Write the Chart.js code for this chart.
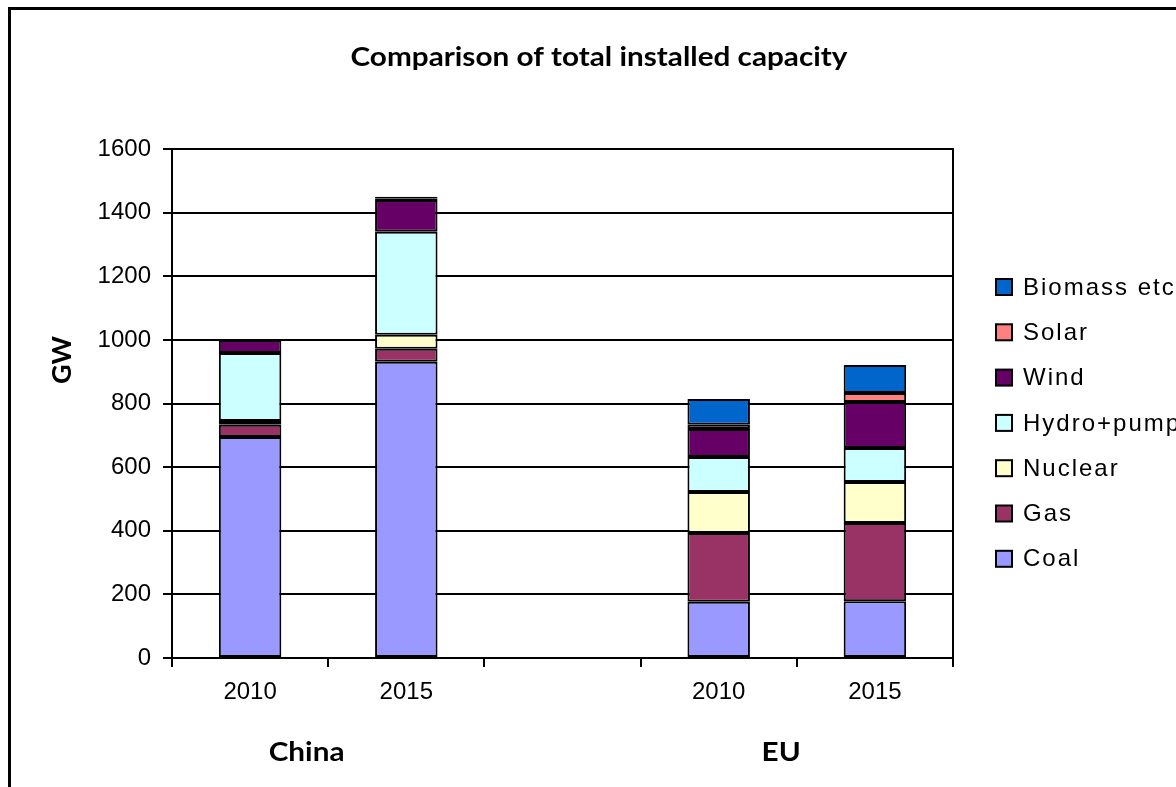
<!DOCTYPE html>
<html>
<head>
<meta charset="utf-8">
<script src="https://cdn.jsdelivr.net/npm/chart.js@4.4.1/dist/chart.umd.min.js"></script>
<style>
  html, body { margin: 0; padding: 0; background: #fff; overflow: hidden; }
  canvas { display: block; }
</style>
</head>
<body>
<canvas id="capChart" width="1176" height="787"></canvas>
<script>
// categories (third slot is an empty gap between China and EU)
const categories = ['2010', '2015', '', '2010', '2015'];
const groups = ['China', 'EU'];
const yTicks = [0, 200, 400, 600, 800, 1000, 1200, 1400, 1600];

// GW per source
const coal    = [695, 931, null, 177, 178];
const gas     = [38, 41, null, 216, 246];
const nuclear = [12, 44, null, 129, 129];
const hydro   = [214, 324, null, 110, 107];
const wind    = [41, 100, null, 88, 145];
const solar   = [null, 4, null, 13, 28];
const biomass = [null, 6, null, 81, 88];

const seriesNames  = ['Coal', 'Gas', 'Nuclear', 'Hydro+pump', 'Wind', 'Solar', 'Biomass etc'];
const seriesValues = [coal, gas, nuclear, hydro, wind, solar, biomass];
const seriesColors = ['#9999FF', '#993366', '#FFFFCC', '#CCFFFF', '#660066', '#FF8080', '#0066CC'];

// draws text squeezed/stretched horizontally, like the original Calibri
function wideText(ctx, text, x, y, sx) {
    ctx.save();
    ctx.translate(x, y);
    ctx.scale(sx, 1);
    ctx.fillText(text, 0, 0);
    ctx.restore();
}

// frame, title, axis title, group labels and legend
const decorations = {
    id: 'decorations',
    beforeDraw(chart) {
        const ctx = chart.ctx;
        ctx.save();
        ctx.fillStyle = '#fff';
        ctx.fillRect(0, 0, chart.width, chart.height);
        ctx.strokeStyle = '#000';
        ctx.lineWidth = 3;
        ctx.beginPath();
        ctx.moveTo(9.5, chart.height);
        ctx.lineTo(9.5, 8.5);
        ctx.lineTo(chart.width, 8.5);
        ctx.stroke();
        ctx.restore();
    },
    afterDraw(chart) {
        const ctx = chart.ctx;
        const area = chart.chartArea;
        const x = chart.scales.x;
        ctx.save();
        // plot box
        ctx.strokeStyle = '#000';
        ctx.lineWidth = 2;
        ctx.strokeRect(area.left, area.top, area.right - area.left, area.bottom - area.top);

        ctx.fillStyle = '#000';
        ctx.textAlign = 'center';
        ctx.textBaseline = 'middle';
        ctx.font = 'bold 27px Lato';
        wideText(ctx, 'Comparison of total installed capacity', 599, 57, 1.1);

        // group labels under the year ticks
        const g1 = x.getPixelForValue(0) * 0.6 + x.getPixelForValue(1) * 0.4;
        const g2 = x.getPixelForValue(3) * 0.6 + x.getPixelForValue(4) * 0.4;
        wideText(ctx, groups[0], g1 - 6, 752, 1.1);
        wideText(ctx, groups[1], g2, 752, 1.1);

        ctx.save();
        ctx.translate(62, 360);
        ctx.rotate(-Math.PI / 2);
        ctx.fillText('GW', 0, 0);
        ctx.restore();

        // legend, top entry is the last dataset
        ctx.textAlign = 'left';
        ctx.font = '24px "Liberation Sans"';
        ctx.letterSpacing = '2px';
        const sets = chart.data.datasets;
        for (let k = 0; k < sets.length; k++) {
            const ds = sets[sets.length - 1 - k];
            const cy = 287 + k * 45.3;
            ctx.fillStyle = ds.backgroundColor;
            ctx.fillRect(996, cy - 8, 16, 16);
            ctx.lineWidth = 2;
            ctx.strokeStyle = '#000';
            ctx.strokeRect(996, cy - 8, 16, 16);
            ctx.fillStyle = '#000';
            ctx.fillText(ds.label, 1023, cy + 1);
        }
        ctx.restore();
    }
};

const ctx = document.getElementById('capChart').getContext('2d');
new Chart(ctx, {
    type: 'bar',
    data: {
        labels: categories,
        datasets: seriesNames.map((name, i) => ({
            label: name,
            data: seriesValues[i],
            backgroundColor: seriesColors[i],
            borderColor: '#000',
            borderWidth: 2,
            borderSkipped: false,
            barPercentage: 0.4,
            categoryPercentage: 1.0
        }))
    },
    options: {
        responsive: false,
        animation: false,
        layout: {
            padding: { top: 149, right: 223, bottom: 0, left: 0 }
        },
        plugins: {
            legend: { display: false },
            title: { display: false },
            tooltip: { enabled: false }
        },
        scales: {
            x: {
                stacked: true,
                afterFit: s => { s.height = 129; },
                grid: {
                    offset: true,
                    drawOnChartArea: false,
                    color: '#000',
                    lineWidth: 2,
                    tickLength: 9
                },
                border: { color: '#000', width: 2 },
                ticks: {
                    color: '#000',
                    padding: 11,
                    font: { family: 'Liberation Sans', size: 24 }
                }
            },
            y: {
                stacked: true,
                min: 0,
                max: 1600,
                afterFit: s => { s.width = 172; },
                afterBuildTicks: s => { s.ticks = yTicks.map(v => ({ value: v })); },
                grid: {
                    color: '#000',
                    lineWidth: 2,
                    tickLength: 9
                },
                border: { color: '#000', width: 2 },
                ticks: {
                    color: '#000',
                    padding: 12,
                    callback: v => String(v),
                    font: { family: 'Liberation Sans', size: 24 }
                }
            }
        }
    },
    plugins: [decorations]
});
</script>
</body>
</html>
